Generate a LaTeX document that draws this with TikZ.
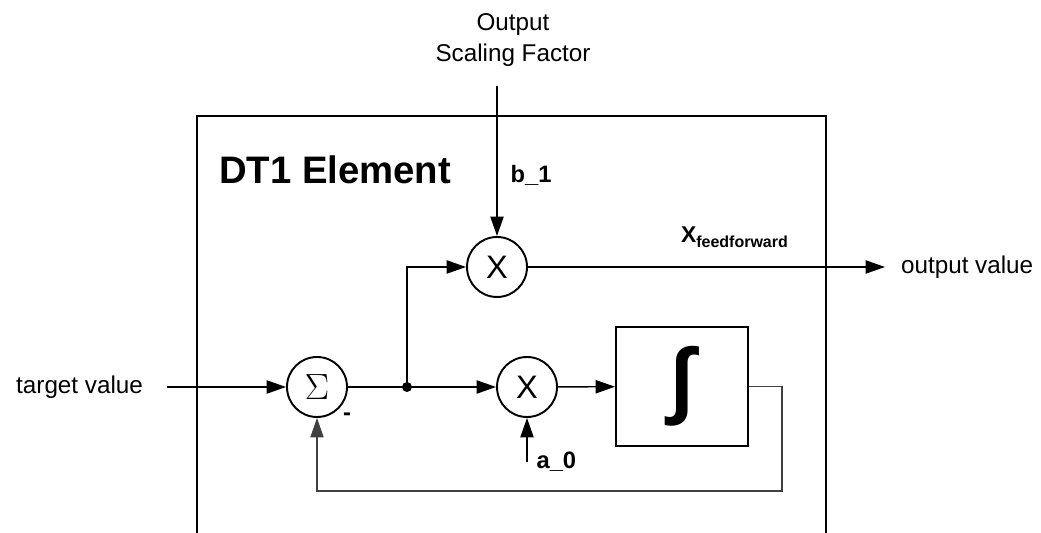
\documentclass[tikz,border=0pt]{standalone}
\usepackage{amsmath}
\usepackage{fontspec}
\setmainfont{Liberation Sans}
\usetikzlibrary{arrows.meta}

\begin{document}
\begin{tikzpicture}[>={Triangle[length=11pt,width=7.5pt]}, line width=0.8pt,
    mult/.style={circle, draw, line width=1.1pt, minimum size=1.2cm, inner sep=0pt,
        font=\fontsize{18.5}{21}\selectfont},
    lbl/.style={font=\fontsize{13.8}{17.6}\selectfont},
    boldlbl/.style={font=\fontsize{13.5}{16}\selectfont\bfseries}]
    \useasboundingbox (0,0) rectangle (20.82,10.66);

    % frame of the DT1 block, open at the bottom
    \draw[line width=1.1pt] (3.94,0) -- (3.94,8.34) -- (16.52,8.34) -- (16.52,0);
    \node[anchor=base west, font=\fontsize{21.8}{25}\selectfont\bfseries] (title) at (4.25,6.98) {DT1 Element};

    % blocks
    \node[mult, font=\fontsize{22}{24}\selectfont] (sum) at (6.34,2.92) {$\Sigma$};
    \node[mult] (mulb) at (9.94,5.32) {X};
    \node[mult] (mula) at (10.54,2.92) {X};
    \node[draw, line width=1.1pt, minimum width=2.64cm, minimum height=2.38cm,
        font=\fontsize{48}{50}\selectfont\bfseries] (integ) at (13.64,2.93) {∫};
    \fill (8.14,2.92) circle (0.1) coordinate (split);

    % labels
    \node[lbl, align=center] (osf) at (10.26,9.85) {Output\\Scaling Factor};
    \node[boldlbl] (b1) at (10.62,7.16) {b\_1};
    \node[lbl, anchor=east] (target) at (2.99,2.92) {target value};
    \node[lbl, anchor=west] (outval) at (17.89,5.32) {output value};
    \node[anchor=base west, font=\fontsize{13}{16}\selectfont] (xff) at (13.49,5.8) {$\textbf{X}_{\textbf{feedforward}}$};
    \node[boldlbl, anchor=west] (a0) at (10.6,1.42) {a\_0};
    \node[boldlbl] (minus) at (6.94,2.32) {-};

    \coordinate (bin) at (9.94,8.94);
    \coordinate (tin) at (3.34,2.92);
    \coordinate (yout) at (17.7,5.32);
    \coordinate (ain) at (10.54,1.42);
    \coordinate (fb) at (15.64,0.84);

    % signal flow
    \draw[->] (bin) -- (mulb);
    \draw[->] (tin) -- (sum);
    \draw (sum) -- (split);
    \draw[->] (split) -- (mula);
    \draw[->] (split) |- (mulb);
    \draw[->] (mulb) -- (yout);
    \draw[->] (mula) -- (integ);
    \draw[->] (ain) -- (mula);
    \draw[->, line width=0.6pt, black!75] (integ.east) -| (fb) -| (sum.south);
\end{tikzpicture}
\end{document}
